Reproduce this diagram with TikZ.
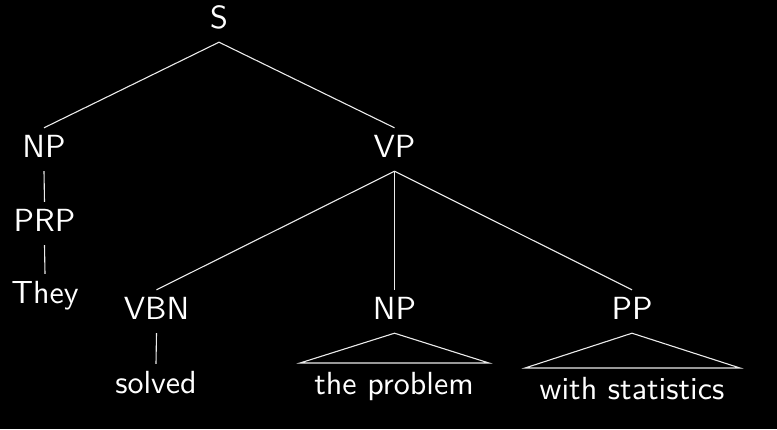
\documentclass[tikz,border=0pt]{standalone}
\usepackage{fontspec}
\newfontfamily\lbfont{lmsans10-regular}[Extension=.otf]
\begin{document}
\begin{tikzpicture}[x=1pt,y=-1pt,
  lbl/.style={text=white,font=\lbfont\fontsize{32}{38}\selectfont,
    anchor=base,text height=23pt,text depth=8pt,inner xsep=0pt,inner ysep=6pt},
  edge/.style={draw=white!92!black,line width=1.1pt}]
\fill[black] (0,0) rectangle (777,429);
\useasboundingbox (0,0) rectangle (777,429);
% nodes
\node[lbl] (S) at (219,28) {S};
\node[lbl] (NP) at (44,157) {NP};
\node[lbl] (VP) at (394.5,157) {VP};
\node[lbl] (PRP) at (44.5,231) {PRP};
\node[lbl] (They) at (45,303) {They};
\node[lbl] (VBN) at (156.5,319) {VBN};
\node[lbl] (NPb) at (394.5,319) {NP};
\node[lbl] (PP) at (632,319) {PP};
\node[lbl] (solved) at (156,393) {solved};
\node[lbl] (prob) at (394,394) {the problem};
\node[lbl] (stat) at (632,399) {with statistics};
\coordinate (npL) at (300,363);
\coordinate (npR) at (489,363);
\coordinate (ppL) at (525,368);
\coordinate (ppR) at (740,368);
% connectors
\draw[edge] (S.south) -- (NP.north);
\draw[edge] (S.south) -- (VP.north);
\draw[edge] (NP.south) -- (PRP.north);
\draw[edge] (PRP.south) -- (They.north);
\draw[edge] (VP.south) -- (VBN.north);
\draw[edge] (VP.south) -- (NPb.north);
\draw[edge] (VP.south) -- (PP.north);
\draw[edge] (VBN.south) -- (solved.north);
\draw[edge] (NPb.south) -- (npL) -- (npR) -- cycle;
\draw[edge] (PP.south) -- (ppL) -- (ppR) -- cycle;
\end{tikzpicture}
\end{document}
